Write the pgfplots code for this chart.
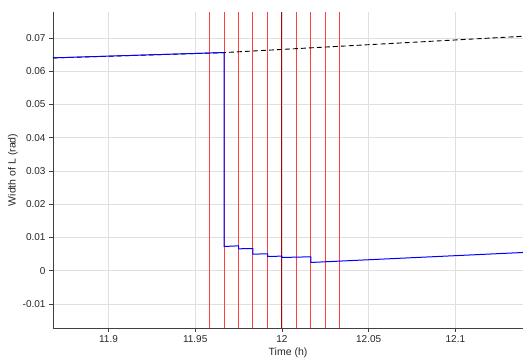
\documentclass[border=0pt]{standalone}
\usepackage{pgfplots}
\pgfplotsset{compat=1.18}
\usepackage{fontspec}
\setmainfont{Liberation Sans}
\definecolor{axgray}{HTML}{404040}
\definecolor{txtgray}{HTML}{262626}
\definecolor{gridgray}{HTML}{DFDFDF}
\definecolor{evred}{HTML}{FF4040}
\definecolor{evdark}{HTML}{B00000}
\begin{document}
\fontsize{10pt}{12pt}\selectfont
\begin{tikzpicture}
\begin{axis}[
  scale only axis,
  width=470pt, height=316pt,
  xmin=11.868, xmax=12.139,
  ymin=-0.0172, ymax=0.0778,
  scaled x ticks=false, scaled y ticks=false,
  axis x line*=bottom, axis y line*=left,
  axis line style={axgray, line width=0.8pt},
  tick align=outside,
  major tick length=4pt,
  tick style={axgray, line width=0.6pt},
  xtick={11.9,11.95,12,12.05,12.1},
  ytick={-0.01,0,0.01,0.02,0.03,0.04,0.05,0.06,0.07},
  xticklabels={11.9,11.95,12,12.05,12.1},
  yticklabels={-0.01,0,0.01,0.02,0.03,0.04,0.05,0.06,0.07},
  ticklabel style={font=\fontsize{10pt}{12pt}\selectfont, text=txtgray},
  grid=major,
  major grid style={gridgray, line width=0.6pt},
  xlabel={Time (h)},
  ylabel={Width of L (rad)},
  label style={font=\fontsize{10.5pt}{12pt}\selectfont, text=txtgray},
  xlabel style={yshift=2pt},
  ylabel style={yshift=-2pt},
  clip=true,
  unbounded coords=jump,
]
% event lines (one path, gaps between)
\addplot[draw=evred, line width=1pt, forget plot] coordinates {
 (11.9583,-0.0172) (11.9583,0.0778) (11.962,nan)
 (11.9667,-0.0172) (11.9667,0.0778) (11.970,nan)
 (11.9750,-0.0172) (11.9750,0.0778) (11.979,nan)
 (11.9833,-0.0172) (11.9833,0.0778) (11.987,nan)
 (11.9917,-0.0172) (11.9917,0.0778) (11.995,nan)
 (12.0083,-0.0172) (12.0083,0.0778) (12.012,nan)
 (12.0167,-0.0172) (12.0167,0.0778) (12.020,nan)
 (12.0250,-0.0172) (12.0250,0.0778) (12.029,nan)
 (12.0333,-0.0172) (12.0333,0.0778)
};
\addplot[draw=evdark, line width=1pt, forget plot] coordinates {(12.0000,-0.0172) (12.0000,0.0778)};
% reference (dashed)
\addplot[draw=black, dash pattern=on 5pt off 3pt, line width=0.9pt] coordinates {
  (11.868,0.0640) (11.9667,0.0656) (12.139,0.0705)
};
% measured width
\addplot[draw=blue, line width=1pt] coordinates {
  (11.868,0.0640) (11.9667,0.0656)
  (11.9667,0.0073) (11.9750,0.0075)
  (11.9750,0.0066) (11.9833,0.0067)
  (11.9833,0.0050) (11.9917,0.0051)
  (11.9917,0.0043) (12.0000,0.0044)
  (12.0000,0.0040) (12.0167,0.0042)
  (12.0167,0.0025) (12.139,0.0055)
};
\end{axis}
\pgfresetboundingbox
\path (current axis.south west) ++(-53pt,-31pt) rectangle ([yshift=12pt]current axis.north east);
\end{tikzpicture}
\end{document}
